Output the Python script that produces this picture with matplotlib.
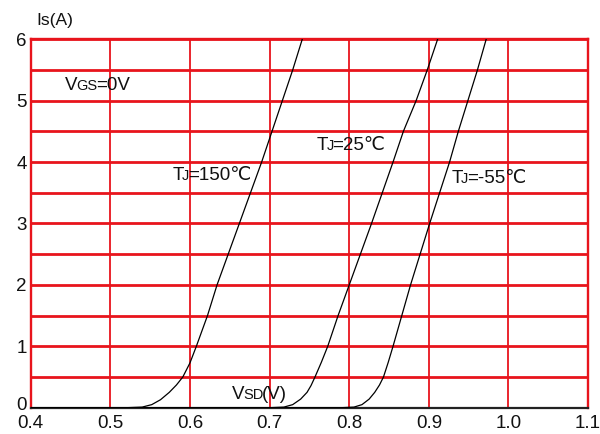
import matplotlib
matplotlib.use("Agg")
import matplotlib.pyplot as plt
import matplotlib.transforms as mtransforms
from matplotlib.offsetbox import TextArea, HPacker, AnnotationBbox
import numpy as np

plt.rcParams["font.family"] = ["Liberation Sans", "DejaVu Sans"]

RED = "#e8141c"

# curves: VSD (V) vs IS (A)
v_150 = [0.40, 0.52, 0.540, 0.552, 0.563, 0.574, 0.583, 0.591, 0.600, 0.608, 0.622, 0.634,
         0.662, 0.690, 0.703, 0.716, 0.729, 0.741]
i_150 = [0.0, 0.0, 0.01, 0.05, 0.13, 0.25, 0.37, 0.5, 0.73, 1.0, 1.5, 2.0,
         3.0, 4.0, 4.5, 5.0, 5.5, 6.0]

v_25 = [0.40, 0.70, 0.718, 0.729, 0.739, 0.747, 0.752, 0.757, 0.765, 0.773, 0.786, 0.800,
        0.828, 0.855, 0.868, 0.884, 0.898, 0.911]
i_25 = [0.0, 0.0, 0.01, 0.05, 0.14, 0.25, 0.36, 0.5, 0.74, 1.0, 1.5, 2.0,
        3.0, 4.0, 4.5, 5.0, 5.5, 6.0]

v_m55 = [0.40, 0.79, 0.806, 0.816, 0.825, 0.832, 0.838, 0.843, 0.849, 0.855, 0.866, 0.877,
         0.901, 0.926, 0.937, 0.949, 0.961, 0.972]
i_m55 = [0.0, 0.0, 0.01, 0.05, 0.14, 0.25, 0.37, 0.5, 0.74, 1.0, 1.5, 2.0,
         3.0, 4.0, 4.5, 5.0, 5.5, 6.0]

x_ticks = [0.4, 0.5, 0.6, 0.7, 0.8, 0.9, 1.0, 1.1]
x_labels = ["0.4", "0.5", "0.6", "0.7", "0.8", "0.9", "1.0", "1.1"]
y_ticks = [0, 1, 2, 3, 4, 5, 6]
y_grid = [0.5, 1, 1.5, 2, 2.5, 3, 3.5, 4, 4.5, 5, 5.5, 6]

# labels: (main, small, rest, x, y, horizontal anchor)
labels = [
    ("V", "GS", "=0V", 0.443, 5.25, 0.0),
    ("T", "J", "=150\u2103", 0.677, 3.78, 1.0),
    ("T", "J", "=25\u2103", 0.759, 4.27, 0.0),
    ("T", "J", "=-55\u2103", 0.928, 3.74, 0.0),
    ("V", "SD", "(V)", 0.653, 0.21, 0.0),
]

fig = plt.figure(figsize=(6.0, 4.34), dpi=100)
ax = fig.add_axes([0.0512, 0.0606, 0.929, 0.849])

ax.set_xlim(0.4, 1.1)
ax.set_ylim(0, 6)

for x in x_ticks:
    ax.axvline(x, color=RED, lw=1.3, zorder=1)
for y in y_grid:
    ax.axhline(y, color=RED, lw=2.0, zorder=1)

for v, i in [(v_150, i_150), (v_25, i_25), (v_m55, i_m55)]:
    ax.plot(v, i, color="black", lw=0.9, zorder=3)

for side in ["left", "right", "top"]:
    ax.spines[side].set_color(RED)
    ax.spines[side].set_linewidth(1.7)
ax.spines["bottom"].set_color("#222222")
ax.spines["bottom"].set_linewidth(1.6)

ax.set_xticks(x_ticks)
ax.set_xticklabels(x_labels)
ax.set_yticks(y_ticks)
ax.tick_params(length=0, labelsize=13.5, colors="#111111")
ax.tick_params(axis="x", pad=5)
ax.tick_params(axis="y", pad=3)

# the "0" on the y axis sits a little above the x axis
zero = ax.get_yticklabels()[0]
zero.set_transform(zero.get_transform() +
                   mtransforms.ScaledTranslation(0, 3 / 72, fig.dpi_scale_trans))

for main, small, rest, x, y, hx in labels:
    box = HPacker(children=[TextArea(main, textprops=dict(size=13.5, color="#111111")),
                            TextArea(small, textprops=dict(size=10.5, color="#111111")),
                            TextArea(rest, textprops=dict(size=13.5, color="#111111"))],
                  align="baseline", pad=0, sep=-1)
    ab = AnnotationBbox(box, (x, y), xycoords="data", frameon=False,
                        box_alignment=(hx, 0.5), pad=0, zorder=4)
    ax.add_artist(ab)

fig.text(0.061, 0.953, "Is(A)", fontsize=12.5, color="#111111", va="center")

fig.savefig("out.png", dpi=100)
